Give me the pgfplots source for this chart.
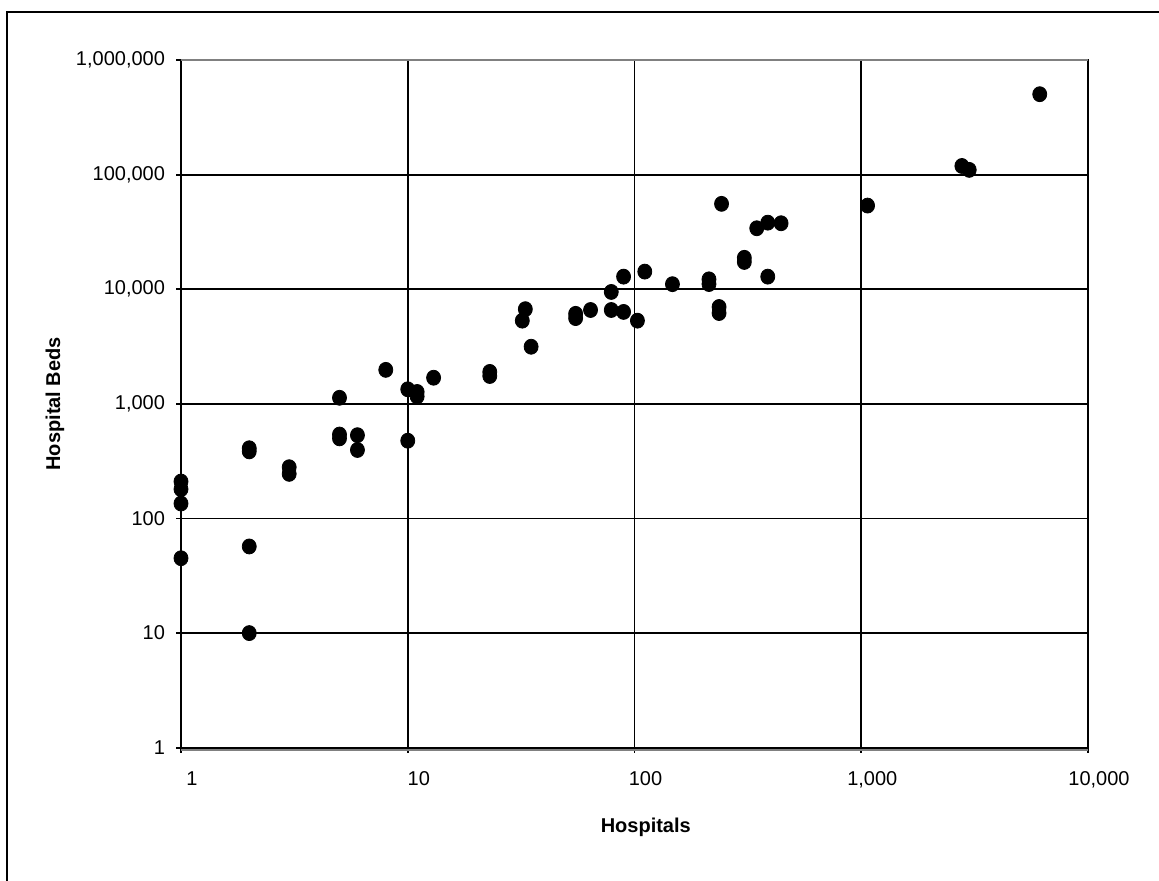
\documentclass[border=0pt]{standalone}
\usepackage{pgfplots}
\pgfplotsset{compat=1.18}
\usepackage{fontspec}
\setmainfont{Liberation Sans}
\begin{document}
\begin{tikzpicture}
\useasboundingbox (0pt,0pt) rectangle (579.5pt,440pt);
\draw[line width=1.2pt] (3.5pt,-20pt) rectangle (600pt,434pt);
\begin{axis}[
  at={(90.5pt,66.15pt)}, anchor=south west,
  width=453.5pt, height=343.85pt, scale only axis,
  xmode=log, ymode=log,
  xmin=1, xmax=10000, ymin=1, ymax=1000000,
  xtick={1,10,100,1000,10000},
  xticklabels={1,10,100,{1,000},{10,000}},
  ytick={1,10,100,1000,10000,100000,1000000},
  yticklabels={1,10,100,{1,000},{10,000},{100,000},{1,000,000}},
  xminorticks=false, yminorticks=false,
  xtick pos=bottom, ytick pos=left,
  tick align=outside, major tick length=2.5pt,
  tick style={black, line width=0.9pt},
  grid=major,
  major grid style={black, line width=0.9pt},
  axis line style={black, line width=0.9pt},
  font=\fontsize{10}{12}\selectfont,
  ticklabel style={font=\fontsize{10}{12}\selectfont},
  xticklabel style={anchor=north, xshift=5.5pt, yshift=-6pt},
  yticklabel style={anchor=east, xshift=-2pt},
  xlabel={\textbf{Hospitals}},
  ylabel={\textbf{Hospital Beds}},
  every axis x label/.style={at={(axis description cs:0.5124,-0.1153)}, anchor=center},
  every axis y label/.style={at={(axis description cs:-0.1389,0.5)}, anchor=center, rotate=90},
  clip=false,
]
\addplot[only marks, mark=*, mark size=3.5pt, mark options={fill=black, draw=black, yscale=1.07}] coordinates {
(1,210) (1,180) (1,135) (1,45)
(2,410) (2,385) (2,57) (2,10)
(3,280) (3,245)
(5,1130) (5,540) (5,500)
(6,533) (6,396)
(8,1980) (10,1340) (11,1270) (11,1160) (10,477) (13,1690)
(23,1900) (23,1750)
(32,5320) (33,6700) (35,3150)
(55,6100) (55,5600) (64,6590)
(79,9470) (79,6590) (89.5,6340) (89.5,12880)
(103,5320) (111,14250) (147,11070)
(213,12200) (213,11100) (236,7000) (236,6200)
(242,55600) (305,18800) (305,17300)
(346,34040) (387,38100) (443,37650) (387,12880)
(1066,53700) (2778,119000) (2993,110000) (6124,503000)
};
\draw[gray, line width=0.9pt] (rel axis cs:0,1) -- (rel axis cs:1,1);
\draw[gray, line width=0.9pt] ([yshift=-1pt]rel axis cs:0,0) -- ([yshift=-1pt]rel axis cs:1,0);
\end{axis}
\end{tikzpicture}
\end{document}
